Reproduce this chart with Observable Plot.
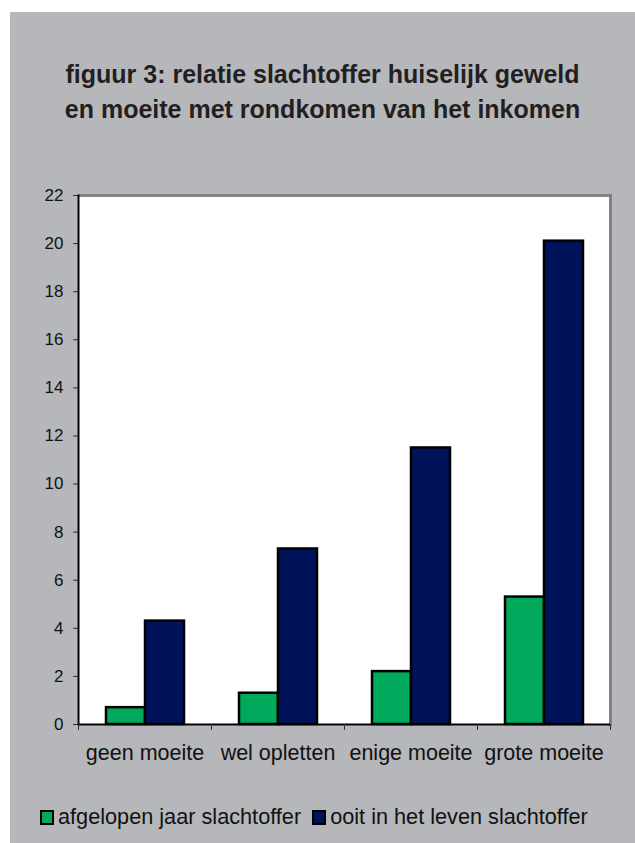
<!DOCTYPE html>
<html>
<head>
<meta charset="utf-8">
<script src="https://cdn.jsdelivr.net/npm/d3@7"></script>
<script src="https://cdn.jsdelivr.net/npm/@observablehq/plot@0.6"></script>
<style>
  html, body { margin: 0; padding: 0; background: #ffffff; }
  body { width: 635px; height: 843px; position: relative; overflow: hidden; font-family: "Liberation Sans", Arial, sans-serif; }
  #panel { position: absolute; left: 10px; top: 12px; width: 625px; height: 831px; background: #b6b7bb; }
  #title { position: absolute; left: 0; top: 45px; width: 625px; text-align: center; font-weight: bold; font-size: 25px; line-height: 35px; color: #231f20; }
  #chart { position: absolute; left: 0; top: 146px; }
  #legend { position: absolute; left: 30px; top: 792px; display: flex; align-items: center; font-size: 21.7px; color: #111; white-space: nowrap; }
  .item { display: flex; align-items: center; margin-right: 11px; }
  .sw { width: 10px; height: 11px; border: 2px solid #000; margin-right: 4px; }
</style>
</head>
<body>
<div id="panel">
  <div id="title"></div>
  <div id="chart"></div>
  <div id="legend"></div>
</div>
<script>
const titleLines = ["figuur 3: relatie slachtoffer huiselijk geweld", "en moeite met rondkomen van het inkomen"];
const categories = ["geen moeite", "wel opletten", "enige moeite", "grote moeite"];
const series = ["afgelopen jaar slachtoffer", "ooit in het leven slachtoffer"];
const lastYear = [0.7, 1.3, 2.2, 5.3];
const lifetime = [4.3, 7.3, 11.5, 20.1];
const yTicks = [0, 2, 4, 6, 8, 10, 12, 14, 16, 18, 20, 22];
const colors = ["#00a95c", "#00135a"];

const data = categories.flatMap((c, i) => [
  {cat: c, s: series[0], v: lastYear[i]},
  {cat: c, s: series[1], v: lifetime[i]}
]);

document.getElementById("title").innerHTML = titleLines.join("<br>");

const W = 625, H = 612, mL = 68, mR = 25, mT = 37, mB = 46;
const band = (W - mL - mR) / categories.length;

const chart = Plot.plot({
  width: W, height: H,
  marginLeft: mL, marginRight: mR, marginTop: mT, marginBottom: mB,
  style: {background: "transparent", fontFamily: "'Liberation Sans', Arial, sans-serif", color: "#111", overflow: "visible"},
  fx: {domain: categories, padding: 0, label: null, axis: null},
  x: {domain: series, paddingInner: 0, paddingOuter: 0.7, axis: null},
  y: {domain: [0, 22], axis: null},
  color: {domain: series, range: colors},
  marks: [
    Plot.frame({fill: "white", stroke: "white", strokeWidth: 1.5}),
    Plot.ruleY([22], {stroke: "#808285", strokeWidth: 3}),
    Plot.frame({anchor: "right", facetAnchor: "right", stroke: "#808285", strokeWidth: 3}),
    Plot.barY(data, {fx: "cat", x: "s", y: "v", fill: "s", stroke: "#000", strokeWidth: 2.5}),
    Plot.axisY({ticks: yTicks, tickSize: 5, tickPadding: 10, fontSize: 17, label: null, stroke: "#333"}),
    Plot.frame({anchor: "left", facetAnchor: "left", stroke: "#000", strokeWidth: 2}),
    Plot.ruleY([0], {stroke: "#000", strokeWidth: 2}),
    Plot.axisFx({anchor: "bottom", tickSize: 0, tickPadding: 20, fontSize: 21.5, label: null}),
    Plot.axisFx({anchor: "bottom", tickSize: 6, text: null, dx: -band / 2, label: null, stroke: "#333"}),
    Plot.axisFx({anchor: "bottom", ticks: [categories[categories.length - 1]], tickSize: 6, text: null, dx: band / 2, label: null, stroke: "#333"})
  ]
});
document.getElementById("chart").appendChild(chart);

const legend = d3.select("#legend");
series.forEach((s, i) => {
  const it = legend.append("div").attr("class", "item");
  it.append("div").attr("class", "sw").style("background", colors[i]);
  it.append("span").text(s);
});
</script>
</body>
</html>
